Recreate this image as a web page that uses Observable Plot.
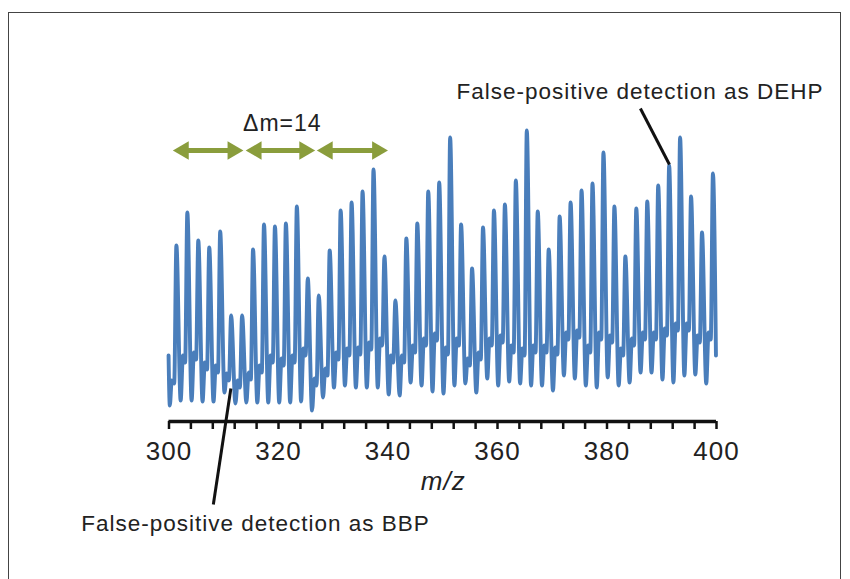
<!DOCTYPE html>
<html><head><meta charset="utf-8">
<script src="https://cdn.jsdelivr.net/npm/d3@7"></script>
<script src="https://cdn.jsdelivr.net/npm/@observablehq/plot@0.6"></script>
<style>
html,body{margin:0;padding:0;background:#fff;}
#wrap{position:relative;width:850px;height:579px;overflow:hidden;background:#fff;}
#chart{position:absolute;left:0;top:0;}
#border{position:absolute;left:8px;top:12px;width:833px;height:620px;border:1px solid #444;box-sizing:border-box;pointer-events:none;}
#chart svg text{letter-spacing:1px;}
</style></head><body>
<div id="wrap"><div id="chart"></div><div id="border"></div></div>
<script>
// ---- data ----
const peakMz = [301.35,303.35,305.35,307.35,309.35,311.35,313.35,315.35,317.35,319.35,
  321.35,323.35,325.35,327.35,329.35,331.35,333.35,335.35,337.35,339.35,
  341.35,343.35,345.35,347.35,349.35,351.35,353.35,355.35,357.35,359.35,
  361.35,363.35,365.35,367.35,369.35,371.35,373.35,375.35,377.35,379.35,
  381.35,383.35,385.35,387.35,389.35,391.35,393.35,395.35,397.35,399.35];
const peakInt = [176,209,181,174,190,106,106,172,197,195,
  198,215,143,126,171,211,219,230,252,165,
  121,183,198,230,239,284,197,153,194,211,
  217,241,291,210,172,205,219,231,238,269,
  215,165,213,220,236,256,284,225,189,248];
// deep valley just after each peak
const valleyInt = [21,21,20,20,29,18,19,19,19,19,
  19,20,11,24,34,36,34,34,34,27,
  26,39,36,30,28,36,38,29,43,36,
  40,38,36,36,31,46,43,36,34,44,
  36,39,49,49,42,39,46,47,38];
// isotope shoulder after each peak
const bumpInt = [66,69,59,56,48,41,49,56,66,63,
  66,73,43,53,69,73,74,79,83,66,
  66,76,83,88,74,83,63,69,83,86,
  76,73,76,76,74,89,91,76,89,86,
  73,83,89,89,93,98,98,86,89];
// small dip before the next peak
const dipInt = [59,62,52,49,41,34,42,49,59,56,
  59,66,36,46,62,66,67,72,76,59,
  59,69,76,81,67,76,56,62,76,79,
  69,66,69,69,67,82,84,69,82,79,
  66,76,82,82,86,91,91,79,82];
const profileOffsets = [0.78, 1.2, 1.6];
const startMz = [299.92, 300.15, 300.5, 300.95];
const startInt = [66, 16, 41, 38];
const endMz = [399.9];
const endInt = [66];

const minorTicks = [300,304,308,312,316,320,324,328,332,336,340,344,348,352,356,360,364,368,372,376,380,384,388,392,396,400];
const labelTicks = [300,320,340,360,380,400];

const arrowStart = [300.7, 314.0, 327.0];
const arrowEnd = [313.6, 326.7, 340.0];
const arrowLevel = 271;

const annotations = [
  {text: "False-positive detection as DEHP", x: 352.5, y: 323},
  {text: "False-positive detection as BBP", x: 283.96, y: -109}
];
const leaders = [
  {x1: 386.1, y1: 313, x2: 391.4, y2: 257},
  {x1: 311.3, y1: 33, x2: 308.1, y2: -83}
];
const deltaLabel = [{text: "\u0394m=14", x: 320.7, y: 291}];
const axisTitle = [{text: "m/z", x: 350.1, y: -68}];

// ---- build trace ----
const trace = [];
startMz.forEach((m, i) => trace.push({mz: m, int: startInt[i]}));
peakMz.forEach((m, i) => {
  trace.push({mz: m, int: peakInt[i]});
  if (i < valleyInt.length) {
    trace.push({mz: m + profileOffsets[0], int: valleyInt[i]});
    trace.push({mz: m + profileOffsets[1], int: bumpInt[i]});
    trace.push({mz: m + profileOffsets[2], int: dipInt[i]});
  }
});
endMz.forEach((m, i) => trace.push({mz: m, int: endInt[i]}));

const arrows = arrowStart.map((s, i) => ({x1: s, x2: arrowEnd[i], y: arrowLevel}));
const green = "#8a9d3c";
const ink = "#222";

const chart = Plot.plot({
  width: 850, height: 579,
  marginLeft: 168.5, marginRight: 134, marginTop: 121, marginBottom: 158,
  x: {domain: [300, 400], axis: null},
  y: {domain: [0, 300], axis: null},
  style: {fontFamily: "'Liberation Sans', Arial, sans-serif", color: ink, background: "transparent", overflow: "visible"},
  marks: [
    Plot.line(trace, {x: "mz", y: "int", stroke: "#4a7ebb", strokeWidth: 3.9, curve: "monotone-x", strokeLinejoin: "round"}),
    Plot.ruleY([0], {stroke: "#111", strokeWidth: 3.5}),
    Plot.axisX({ticks: minorTicks, tickSize: 8, strokeWidth: 2.5, stroke: "#111", tickFormat: () => "", label: null}),
    Plot.axisX({ticks: labelTicks, tickSize: 0, tickPadding: 20, fontSize: 26, label: null, tickFormat: d => String(d), fill: ink}),
    Plot.text(axisTitle, {x: "x", y: "y", text: "text", fontSize: 26, fontStyle: "italic", lineAnchor: "bottom", fill: ink}),
    Plot.ruleY(arrows, {y: "y", x1: "x1", x2: "x2", stroke: green, strokeWidth: 5, insetLeft: 6, insetRight: 6}),
    Plot.dot(arrows, {x: "x2", y: "y", symbol: "triangle", r: 6.8, fill: green, stroke: "none", rotate: 90, dx: -10.6}),
    Plot.dot(arrows, {x: "x1", y: "y", symbol: "triangle", r: 6.8, fill: green, stroke: "none", rotate: -90, dx: 10.6}),
    Plot.text(deltaLabel, {x: "x", y: "y", text: "text", fontSize: 23, lineAnchor: "bottom", fill: ink}),
    Plot.link(leaders, {x1: "x1", y1: "y1", x2: "x2", y2: "y2", stroke: "#111", strokeWidth: 3}),
    Plot.text(annotations, {x: "x", y: "y", text: "text", fontSize: 22.5, textAnchor: "start", lineAnchor: "bottom", fill: ink})
  ]
});
document.getElementById("chart").appendChild(chart);
</script>
</body></html>
